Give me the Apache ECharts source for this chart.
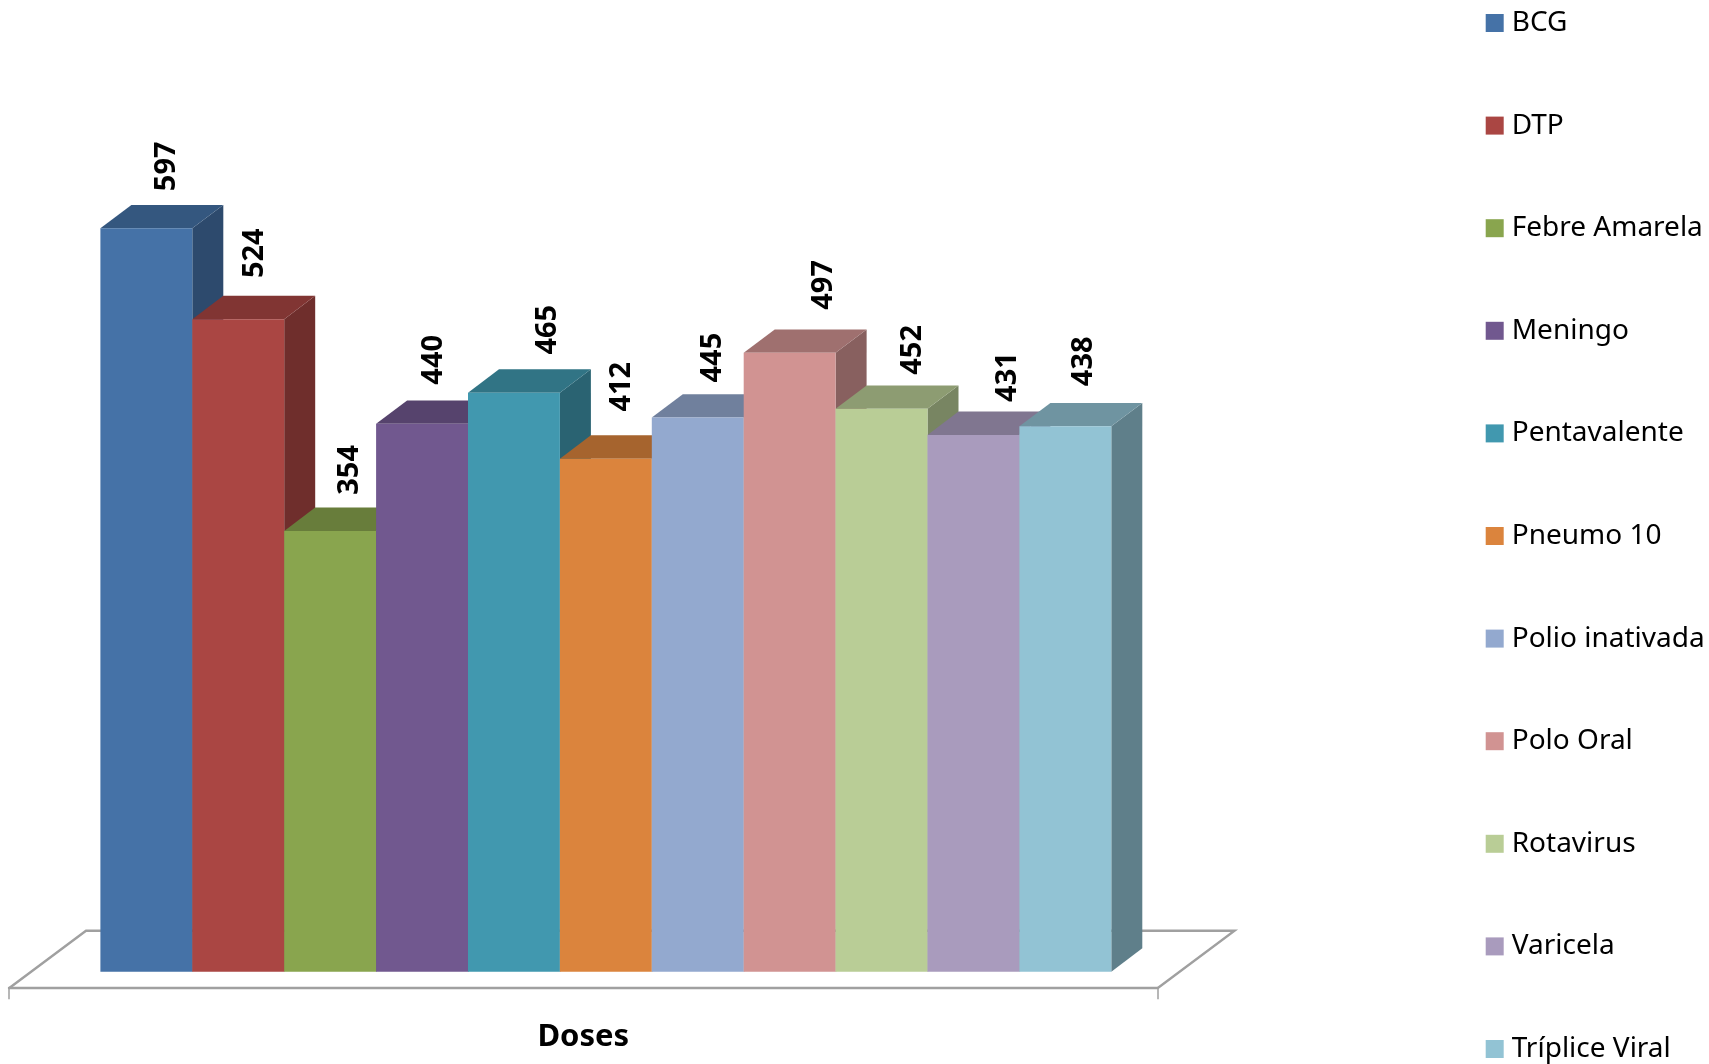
<!DOCTYPE html>
<html><head><meta charset="utf-8">
<style>html,body{margin:0;padding:0;background:#fff}#c{width:1709px;height:1064px}</style>
<script src="https://cdn.jsdelivr.net/npm/echarts@6/dist/echarts.min.js"></script>
</head><body><div id="c"></div>
<script>
const category = ['Doses'];
const names = ['BCG','DTP','Febre Amarela','Meningo','Pentavalente','Pneumo 10','Polio inativada','Polo Oral','Rotavirus','Varicela','Tríplice Viral'];
const values = [597,524,354,440,465,412,445,497,452,431,438];
const colors = ['#4572A7','#AA4643','#89A54E','#71588F','#4198AF','#DB843D','#93A9CF','#D19392','#B9CD96','#A99BBD','#92C3D4'];
// hand-placed data label offsets from the bar's front-top centre
const labelDx = [20,16,20,12,34,16,15,34,31,34,18];
const labelDy = [-62,-66,-61,-64,-63,-72,-60,-68,-59,-58,-65];

const BAR_W = 91.9, DEPTH_X = 31, DEPTH_Y = 23.4, GROUP_SHIFT = 22.6;
const shade = (hex, f) => {
  const n = parseInt(hex.slice(1), 16);
  const c = [n >> 16, (n >> 8) & 255, n & 255].map(v => Math.round(v * f));
  return `rgb(${c[0]},${c[1]},${c[2]})`;
};
const poly = (points, fill) => ({type:'polygon', shape:{points}, style:{fill}});

function barRenderer(i) {
  return (params, api) => {
    const top = api.coord([0, api.value(1)]);
    const base = api.coord([0, 0]);
    const l = top[0] + GROUP_SHIFT + (i - 5.5) * BAR_W, r = l + BAR_W;
    const t = top[1], b = base[1], c = colors[i];
    return {type:'group', children:[
      poly([[r,t],[r+DEPTH_X,t-DEPTH_Y],[r+DEPTH_X,b-DEPTH_Y],[r,b]], shade(c,0.65)),
      poly([[l,t],[l+DEPTH_X,t-DEPTH_Y],[r+DEPTH_X,t-DEPTH_Y],[r,t]], shade(c,0.76)),
      poly([[l,t],[r,t],[r,b],[l,b]], c),
      {type:'text', x:(l+r)/2+labelDx[i], y:t+labelDy[i], rotation:Math.PI/2,
       style:{text:String(api.value(1)), align:'center', verticalAlign:'middle',
              font:'bold 29px "Noto Sans"', fill:'#000'}}
    ]};
  };
}
function floorRenderer(params, api) {
  const base = api.coord([0,0]);
  const half = api.size([1,0])[0] / 2;
  const x0 = base[0]-half, x1 = base[0]+half;
  const yF = base[1]+16.5, yB = base[1]-41, sk = 77;
  const line = {stroke:'#A0A0A0', lineWidth:2.4, fill:null};
  return {type:'polyline', shape:{points:[[x0,yF],[x0+sk,yB],[x1+sk,yB],[x1,yF]]}, style:line};
}

const series = [{name:'floor', type:'custom', clip:false, z:1, renderItem:floorRenderer, data:[[0,0]], silent:true}];
names.forEach((n,i)=>series.push({
  name:n, type:'custom', clip:false, z:2+i, renderItem:barRenderer(i),
  itemStyle:{color:colors[i]}, encode:{x:0,y:1}, data:[[0,values[i]]]
}));

const chart = echarts.init(document.getElementById('c'), null, {renderer:'canvas'});
chart.setOption({
  animation:false,
  backgroundColor:'#fff',
  grid:{left:9, width:1148.5, top:100.06, height:871.64, containLabel:false},
  xAxis:{type:'category', data:category, offset:16.5,
    axisLine:{show:true, onZero:false, lineStyle:{color:'#A0A0A0', width:2.4}},
    axisTick:{show:true, length:11, lineStyle:{color:'#A0A0A0', width:1.5}},
    axisLabel:{margin:33, fontFamily:'Noto Sans', fontWeight:'bold', fontSize:31, color:'#000'}},
  yAxis:{type:'value', min:0, max:700, show:false, splitLine:{show:false}},
  legend:{data:names.map(n=>({name:n, icon:'rect'})), orient:'vertical', left:1485.7, top:9, padding:0,
    itemWidth:18, itemHeight:18, itemGap:74.6, align:'left', selectedMode:false,
    textStyle:{fontFamily:'Noto Sans', fontSize:28, lineHeight:28, color:'#000', padding:[0,0,0,3]}},
  series
});
</script></body></html>
